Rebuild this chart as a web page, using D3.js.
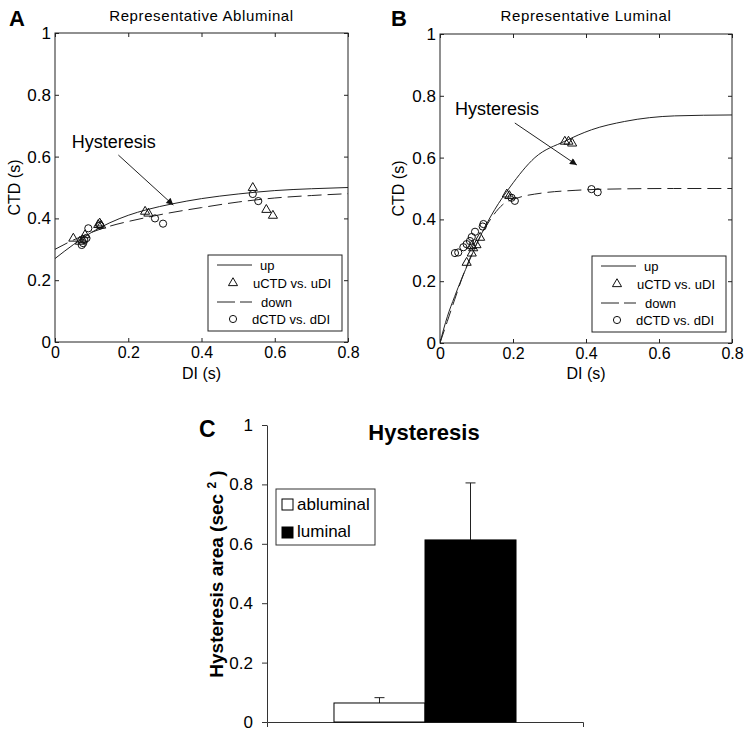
<!DOCTYPE html>
<html><head><meta charset="utf-8">
<script src="https://cdn.jsdelivr.net/npm/d3@7"></script>
<style>
body{margin:0;background:#fff}
svg{display:block}
text{font-family:"Liberation Sans",Arial,Helvetica,sans-serif;fill:#000}
</style>
</head><body>
<svg id="fig" width="751" height="734"></svg>
<script>
// ---------- DATA ----------
const diTicks = [0, 0.2, 0.4, 0.6, 0.8];
const ctdTicks = [0, 0.2, 0.4, 0.6, 0.8, 1];
const areaTicks = [0, 0.2, 0.4, 0.6, 0.8, 1];

// Panel A (Representative Abluminal): fitted curves [DI, CTD]
const aUpCurve = [[0,0.27],[0.05,0.315],[0.1,0.355],[0.15,0.386],[0.2,0.41],[0.25,0.428],[0.32,0.447],[0.4,0.464],[0.5,0.479],[0.6,0.49],[0.7,0.496],[0.8,0.5]];
const aDownCurve = [[0,0.30],[0.05,0.33],[0.1,0.355],[0.15,0.375],[0.2,0.39],[0.25,0.403],[0.3,0.415],[0.4,0.435],[0.5,0.453],[0.6,0.466],[0.7,0.474],[0.8,0.48]];
// Panel A measured points
const aUpPoints = [[0.05,0.335],[0.068,0.325],[0.075,0.33],[0.082,0.346],[0.118,0.379],[0.122,0.384],[0.126,0.377],[0.246,0.422],[0.255,0.416],[0.54,0.499],[0.577,0.428],[0.595,0.409]];
const aDownPoints = [[0.073,0.314],[0.077,0.32],[0.08,0.33],[0.086,0.336],[0.091,0.368],[0.123,0.377],[0.273,0.40],[0.295,0.383],[0.54,0.479],[0.555,0.456]];

// Panel B (Representative Luminal): fitted curves
const bUpCurve = [[0,0],[0.01,0.045],[0.02,0.085],[0.04,0.15],[0.06,0.21],[0.08,0.265],[0.1,0.32],[0.123,0.375],[0.15,0.432],[0.192,0.505],[0.26,0.6],[0.342,0.653],[0.415,0.69],[0.506,0.717],[0.643,0.735],[0.8,0.738]];
const bDownCurve = [[0,0],[0.02,0.07],[0.04,0.14],[0.07,0.24],[0.1,0.32],[0.13,0.385],[0.172,0.448],[0.214,0.47],[0.278,0.485],[0.37,0.494],[0.46,0.498],[0.64,0.5],[0.8,0.5]];
// Panel B measured points
const bUpPoints = [[0.073,0.26],[0.087,0.29],[0.087,0.314],[0.091,0.307],[0.1,0.317],[0.11,0.341],[0.183,0.481],[0.19,0.476],[0.342,0.652],[0.352,0.652],[0.362,0.646]];
const bDownPoints = [[0.041,0.291],[0.05,0.293],[0.064,0.31],[0.073,0.32],[0.082,0.33],[0.087,0.343],[0.096,0.36],[0.117,0.377],[0.119,0.385],[0.196,0.47],[0.205,0.46],[0.415,0.498],[0.432,0.488]];

const legendLabels = ["up", "uCTD vs. uDI", "down", "dCTD vs. dDI"];

// Panel C (bar chart)
const barCategories = ["abluminal", "luminal"];
const barValues = [0.064, 0.613];
const barErrors = [0.018, 0.192];

// ---------- DRAWING ----------
const svg = d3.select("#fig");
const FONT = '"Liberation Sans",Arial,Helvetica,sans-serif';

svg.append("defs").append("marker")
  .attr("id","arrowhead").attr("viewBox","0 0 10 10")
  .attr("refX",10).attr("refY",5)
  .attr("markerWidth",9).attr("markerHeight",7)
  .attr("markerUnits","userSpaceOnUse")
  .attr("orient","auto")
  .append("path").attr("d","M0,0L10,5L0,10z").attr("fill","#111");

function scatterPanel(cfg) {
  const {x0,x1,y0,y1} = cfg.box;
  const x = d3.scaleLinear().domain([0,0.8]).range([x0,x1]);
  const y = d3.scaleLinear().domain([0,1]).range([y1,y0]);
  const g = svg.append("g");

  const clipId = "clip" + cfg.letter;
  g.append("clipPath").attr("id",clipId).append("rect")
    .attr("x",x0).attr("y",y0).attr("width",x1-x0).attr("height",y1-y0);

  const fmt = d => String(d);
  const ab = g.append("g").attr("transform",`translate(0,${y1})`)
    .call(d3.axisBottom(x).tickValues(diTicks).tickSize(-4).tickPadding(5).tickFormat(fmt));
  const at = g.append("g").attr("transform",`translate(0,${y0})`)
    .call(d3.axisTop(x).tickValues(diTicks).tickSize(-4).tickFormat(""));
  const al = g.append("g").attr("transform",`translate(${x0},0)`)
    .call(d3.axisLeft(y).tickValues(ctdTicks).tickSize(-4).tickPadding(4).tickFormat(fmt));
  const ar = g.append("g").attr("transform",`translate(${x1},0)`)
    .call(d3.axisRight(y).tickValues(ctdTicks).tickSize(-4).tickFormat(""));
  [ab,at,al,ar].forEach(a => {
    a.select(".domain").remove();
    a.selectAll("line").attr("stroke","#222");
    a.selectAll("text").style("font-family",FONT).style("font-size","17px").attr("fill","#000");
  });
  ab.selectAll("text").style("font-size","16px");
  g.append("rect").attr("x",x0).attr("y",y0).attr("width",x1-x0).attr("height",y1-y0)
    .attr("fill","none").attr("stroke","#222").attr("stroke-width",1);

  const line = d3.line().x(d=>x(d[0])).y(d=>y(d[1])).curve(d3.curveMonotoneX);
  const cg = g.append("g").attr("clip-path",`url(#${clipId})`);
  cg.append("path").attr("d",line(cfg.upCurve)).attr("fill","none").attr("stroke","#222").attr("stroke-width",1);
  cg.append("path").attr("d",line(cfg.downCurve)).attr("fill","none").attr("stroke","#222").attr("stroke-width",1).attr("stroke-dasharray","14,6");

  const tri = d3.symbol(d3.symbolTriangle).size(36);
  cg.selectAll(".tri").data(cfg.upPoints).join("path").attr("class","tri")
    .attr("d",tri).attr("transform",d=>`translate(${x(d[0])},${y(d[1])})`)
    .attr("fill","none").attr("stroke","#111").attr("stroke-width",1);
  cg.selectAll(".cir").data(cfg.downPoints).join("circle").attr("class","cir")
    .attr("cx",d=>x(d[0])).attr("cy",d=>y(d[1])).attr("r",3.6)
    .attr("fill","none").attr("stroke","#111").attr("stroke-width",1);

  g.append("text").attr("x",x(cfg.annText[0])).attr("y",y(cfg.annText[1]))
    .style("font-size","18px").text("Hysteresis");
  g.append("line").attr("x1",x(cfg.arrow[0][0])).attr("y1",y(cfg.arrow[0][1]))
    .attr("x2",x(cfg.arrow[1][0])).attr("y2",y(cfg.arrow[1][1]))
    .attr("stroke","#222").attr("stroke-width",1).attr("marker-end","url(#arrowhead)");

  g.append("text").attr("x",(x0+x1)/2).attr("y",21).attr("text-anchor","middle")
    .style("font-size","15px").style("letter-spacing","0.6px").text(cfg.title);
  g.append("text").attr("x",cfg.letterX).attr("y",26).style("font-size","22px").style("font-weight","bold").text(cfg.letter);
  g.append("text").attr("x",(x0+x1)/2).attr("y",379).attr("text-anchor","middle").style("font-size","16px").text("DI (s)");
  g.append("text").attr("transform",`translate(${cfg.ylabX},${(y0+y1)/2}) rotate(-90)`)
    .attr("text-anchor","middle").style("font-size","16px").text("CTD (s)");

  const bw = 134, bh = 76;
  const bx = x1 - 6 - bw, by = y1 - 11 - bh;
  const lg = g.append("g");
  lg.append("rect").attr("x",bx).attr("y",by).attr("width",bw).attr("height",bh)
    .attr("fill","#fff").attr("stroke","#222").attr("stroke-width",1);
  const rows = [10, 28, 47, 64];
  lg.append("line").attr("x1",bx+9).attr("x2",bx+44).attr("y1",by+rows[0]).attr("y2",by+rows[0]).attr("stroke","#222");
  lg.append("path").attr("d",tri).attr("transform",`translate(${bx+25},${by+rows[1]})`).attr("fill","none").attr("stroke","#111");
  lg.append("line").attr("x1",bx+9).attr("x2",bx+44).attr("y1",by+rows[2]).attr("y2",by+rows[2]).attr("stroke","#222").attr("stroke-dasharray","18,5");
  lg.append("circle").attr("cx",bx+25).attr("cy",by+rows[3]).attr("r",3.6).attr("fill","none").attr("stroke","#111");
  const tx = [52, 45, 53, 44];
  legendLabels.forEach((t,i)=>{
    lg.append("text").attr("x",bx+tx[i]).attr("y",by+rows[i]+5).style("font-size","13px").text(t);
  });
}

scatterPanel({
  letter:"A", letterX:9, ylabX:20, title:"Representative Abluminal",
  box:{x0:55,x1:348,y0:33,y1:342},
  upCurve:aUpCurve, downCurve:aDownCurve, upPoints:aUpPoints, downPoints:aDownPoints,
  annText:[0.046,0.628], arrow:[[0.173,0.605],[0.323,0.443]]
});
scatterPanel({
  letter:"B", letterX:391, ylabX:404, title:"Representative Luminal",
  box:{x0:440,x1:732,y0:34,y1:343},
  upCurve:bUpCurve, downCurve:bDownCurve, upPoints:bUpPoints, downPoints:bDownPoints,
  annText:[0.041,0.738], arrow:[[0.205,0.712],[0.375,0.576]]
});

// ---------- Panel C ----------
(function(){
  const g = svg.append("g");
  const y = d3.scaleLinear().domain([0,1]).range([722,425]);
  const xOuter = d3.scaleBand().domain(["Hysteresis"]).range([267,583]);
  const xInner = d3.scaleBand().domain(barCategories).range([0,xOuter.bandwidth()]).paddingInner(0).paddingOuter(0.736);
  const left = xOuter("Hysteresis");

  const ay = g.append("g").attr("transform","translate(267,0)")
    .call(d3.axisLeft(y).tickValues(areaTicks).tickSize(5).tickSizeOuter(0).tickPadding(9).tickFormat(d=>String(d)));
  ay.selectAll("text").style("font-family",FONT).style("font-size","17px");
  ay.selectAll("line,path").attr("stroke","#333");

  const ax = g.append("g").attr("transform","translate(0,722)")
    .call(d3.axisBottom(xOuter).tickValues([]).tickSizeOuter(5));
  ax.selectAll("path").attr("stroke","#333");

  const fills = {abluminal:"#fff", luminal:"#000"};
  barCategories.forEach((c,i)=>{
    const bx = left + xInner(c), bw = xInner.bandwidth();
    const cx = bx + bw/2;
    const top = y(barValues[i] + barErrors[i]);
    g.append("line").attr("x1",cx).attr("x2",cx).attr("y1",y(barValues[i])).attr("y2",top).attr("stroke","#222");
    g.append("line").attr("x1",cx-5).attr("x2",cx+5).attr("y1",top).attr("y2",top).attr("stroke","#222");
    g.append("rect").attr("x",bx).attr("y",y(barValues[i])).attr("width",bw).attr("height",y(0)-y(barValues[i]))
      .attr("fill",fills[c]).attr("stroke","#000").attr("stroke-width",1);
  });

  g.append("text").attr("x",424).attr("y",440).attr("text-anchor","middle")
    .style("font-size","22px").style("font-weight","bold").text("Hysteresis");
  g.append("text").attr("x",199).attr("y",437).style("font-size","23px").style("font-weight","bold").text("C");

  const yl = g.append("text").attr("transform","translate(223,574) rotate(-90)")
    .attr("text-anchor","middle").style("font-size","19px").style("font-weight","bold");
  yl.append("tspan").text("Hysteresis area (sec ");
  yl.append("tspan").attr("dy",-7).style("font-size","12px").text("2");
  yl.append("tspan").attr("dy",7).text(" )");

  const lg = g.append("g");
  lg.append("rect").attr("x",276).attr("y",489).attr("width",99).attr("height",56)
    .attr("fill","#fff").attr("stroke","#333").attr("stroke-width",1);
  barCategories.forEach((c,i)=>{
    lg.append("rect").attr("x",282).attr("y",499+i*28).attr("width",11).attr("height",11)
      .attr("fill",fills[c]).attr("stroke","#000").attr("stroke-width",1);
    lg.append("text").attr("x",297).attr("y",510+i*27).style("font-size","17px").text(c);
  });
})();
</script>
</body></html>
